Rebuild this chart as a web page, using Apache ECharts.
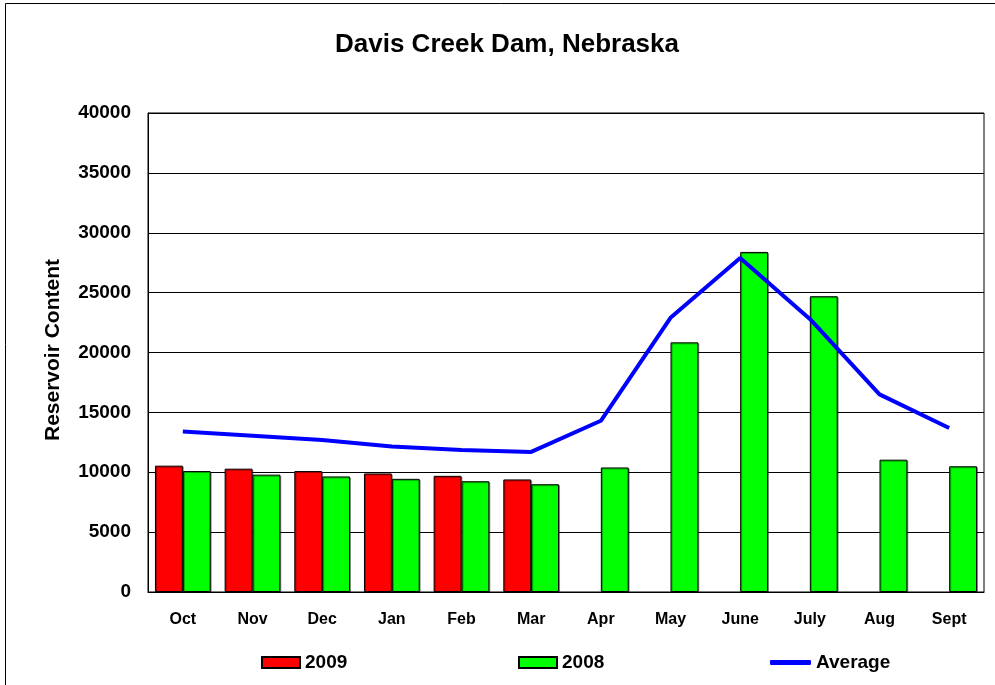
<!DOCTYPE html>
<html>
<head>
<meta charset="utf-8">
<script src="https://cdn.jsdelivr.net/npm/echarts@6/dist/echarts.min.js"></script>
<style>
html,body{margin:0;padding:0;background:#fff;}
#chart{width:995px;height:685px;}
</style>
</head>
<body>
<div id="chart"></div>
<script>
var categories = ['Oct','Nov','Dec','Jan','Feb','Mar','Apr','May','June','July','Aug','Sept'];
var values2009 = [10550, 10300, 10100, 9900, 9700, 9400, null, null, null, null, null, null];
var values2008 = [10100, 9800, 9650, 9450, 9250, 9000, 10400, 20850, 28400, 24700, 11050, 10500];
var valuesAverage = [13400, 13050, 12700, 12150, 11850, 11700, 14300, 22900, 27900, 22800, 16500, 13700];
var yTicks = [0, 5000, 10000, 15000, 20000, 25000, 30000, 35000, 40000];

var FONT = '"Liberation Sans", Arial, sans-serif';
var chart = echarts.init(document.getElementById('chart'), null, {renderer: 'canvas'});
var option = {
  backgroundColor: '#ffffff',
  animation: false,
  title: {
    text: 'Davis Creek Dam, Nebraska',
    left: 507,
    textAlign: 'center',
    top: 32,
    padding: 0,
    textStyle: {fontFamily: FONT, fontWeight: 'bold', fontSize: 26, color: '#000'}
  },
  graphic: [
    {type: 'rect', shape: {x: 5.5, y: 3.5, width: 1100, height: 800}, style: {fill: 'none', stroke: '#000', lineWidth: 1}, silent: true, z: -1},
    {type: 'text', x: 53, y: 350, rotation: Math.PI / 2,
     style: {text: 'Reservoir Content', fontFamily: FONT, fontWeight: 'bold', fontSize: 21, fill: '#000', align: 'center', verticalAlign: 'middle'}}
  ],
  legend: [
    {data: ['2009'], left: 261, top: 653, padding: 0, itemWidth: 38, itemHeight: 11, icon: 'rect',
     textStyle: {fontFamily: FONT, fontWeight: 'bold', fontSize: 19, color: '#000'}},
    {data: ['2008'], left: 518, top: 653, padding: 0, itemWidth: 38, itemHeight: 11, icon: 'rect',
     textStyle: {fontFamily: FONT, fontWeight: 'bold', fontSize: 19, color: '#000'}},
    {data: ['Average'], left: 770, top: 653, padding: 0, itemWidth: 41, itemHeight: 5, icon: 'roundRect',
     textStyle: {fontFamily: FONT, fontWeight: 'bold', fontSize: 19, color: '#000'}}
  ],
  grid: {left: 148, right: 11, top: 113, bottom: 93, show: true, borderColor: '#000', borderWidth: 1, backgroundColor: 'transparent'},
  xAxis: {
    type: 'category',
    data: categories,
    axisTick: {show: false},
    axisLine: {lineStyle: {color: '#000', width: 1}},
    axisLabel: {fontFamily: FONT, fontWeight: 'bold', fontSize: 16, color: '#000', margin: 20, interval: 0}
  },
  yAxis: {
    type: 'value',
    min: yTicks[0],
    max: yTicks[yTicks.length - 1],
    interval: yTicks[1] - yTicks[0],
    axisLine: {show: true, lineStyle: {color: '#000', width: 1}},
    axisTick: {show: false},
    splitLine: {lineStyle: {color: '#000', width: 1}},
    axisLabel: {fontFamily: FONT, fontWeight: 'bold', fontSize: 19, color: '#000', margin: 17,
      formatter: function (v) { return String(v); }}
  },
  series: [
    {name: '2009', type: 'bar', data: values2009, barGap: '0%', barCategoryGap: '20%',
     itemStyle: {color: '#FF0000', borderColor: '#000', borderWidth: 1, shadowColor: 'rgba(0,0,0,0.35)', shadowOffsetX: 1, shadowOffsetY: 1}},
    {name: '2008', type: 'bar', data: values2008, barGap: '0%', barCategoryGap: '20%',
     itemStyle: {color: '#00FF00', borderColor: '#000', borderWidth: 1, shadowColor: 'rgba(0,0,0,0.35)', shadowOffsetX: 1, shadowOffsetY: 1}},
    {name: 'Average', type: 'line', data: valuesAverage, symbol: 'none', color: '#0000FF',
     lineStyle: {color: '#0000FF', width: 4}, itemStyle: {color: '#0000FF'}, z: 5}
  ]
};
chart.setOption(option);
</script>
</body>
</html>
